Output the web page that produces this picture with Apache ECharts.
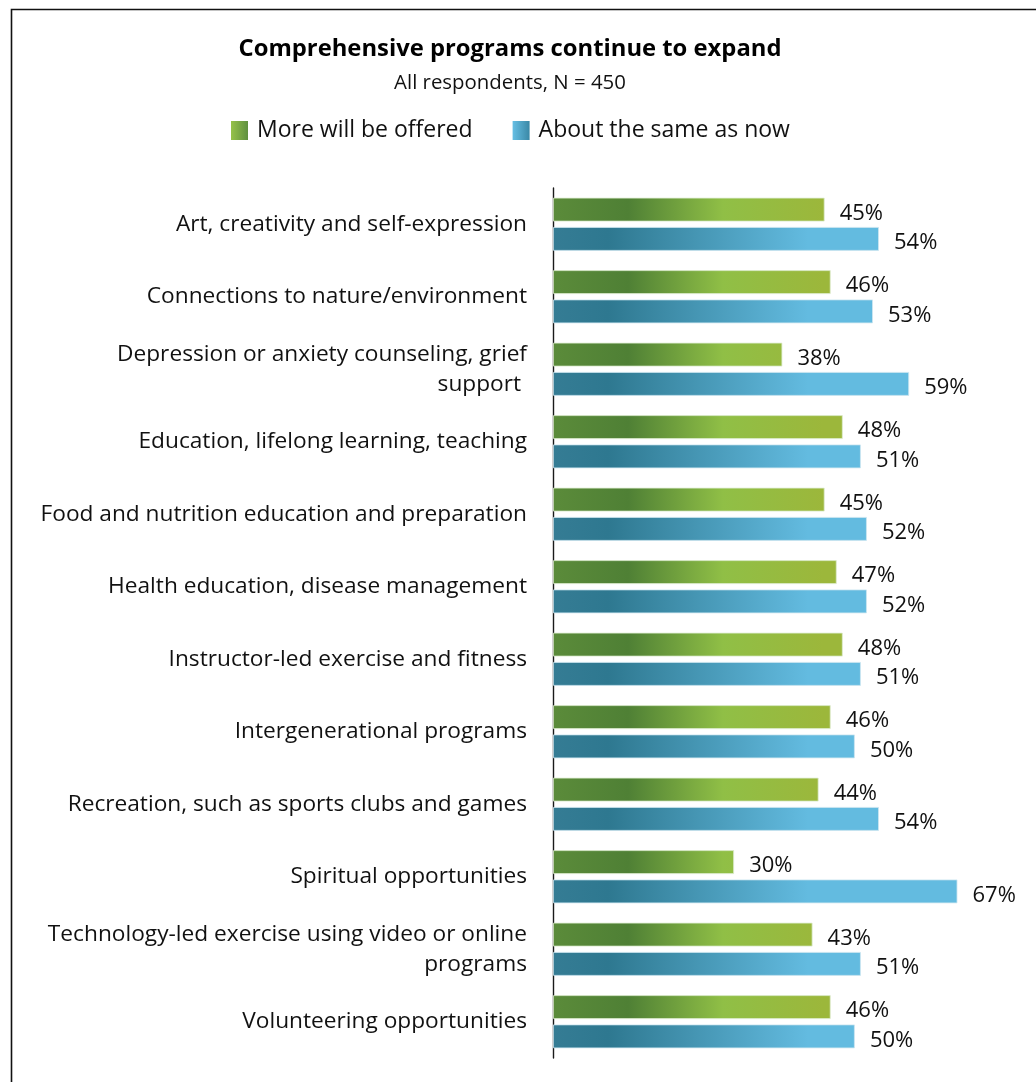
<!DOCTYPE html>
<html>
<head>
<meta charset="utf-8">
<script src="https://cdn.jsdelivr.net/npm/echarts@6/dist/echarts.min.js"></script>
<style>
  html, body { margin: 0; padding: 0; background: #fff; }
  #chart { width: 1036px; height: 1082px; }
</style>
</head>
<body>
<div id="chart"></div>
<script>
// Survey categories, top to bottom
const categories = [
  'Art, creativity and self-expression',
  'Connections to nature/environment',
  'Depression or anxiety counseling, grief\nsupport ',
  'Education, lifelong learning, teaching',
  'Food and nutrition education and preparation',
  'Health education, disease management',
  'Instructor-led exercise and fitness',
  'Intergenerational programs',
  'Recreation, such as sports clubs and games',
  'Spiritual opportunities',
  'Technology-led exercise using video or online\nprograms',
  'Volunteering opportunities'
];

// Share of respondents (%)
const moreOffered = [45, 46, 38, 48, 45, 47, 48, 46, 44, 30, 43, 46];
const sameAsNow   = [54, 53, 59, 51, 52, 52, 51, 50, 54, 67, 51, 50];

const seriesNames = ['More will be offered', 'About the same as now'];

const FONT = '"Open Sans", Lato, sans-serif';

// plot area geometry
const W = 1036, H = 1082;
const gridLeft = 553, gridTop = 188, gridBottom = 24, gridRight = 0;
const plotW = W - gridLeft - gridRight;

// gradients anchored to the plot area so every bar shares the same colour ramp
const px = (d) => d / plotW;
const greenFill = new echarts.graphic.LinearGradient(gridLeft, 0, gridLeft + plotW, 0, [
  { offset: 0, color: '#5b8b3a' },
  { offset: px(75), color: '#4f8035' },
  { offset: px(170), color: '#90bf46' },
  { offset: px(270), color: '#9cb73b' },
  { offset: 1, color: '#9cb73b' }
], true);
const blueFill = new echarts.graphic.LinearGradient(gridLeft, 0, gridLeft + plotW, 0, [
  { offset: 0, color: '#357c94' },
  { offset: px(55), color: '#2e7890' },
  { offset: px(255), color: '#63bbe0' },
  { offset: 1, color: '#63bbe0' }
], true);

const greenIcon = new echarts.graphic.LinearGradient(0, 0, 1, 0, [
  { offset: 0, color: '#96c24a' },
  { offset: 1, color: '#5f9040' }
]);
const blueIcon = new echarts.graphic.LinearGradient(0, 0, 1, 0, [
  { offset: 0, color: '#66bfe4' },
  { offset: 1, color: '#3a88a6' }
]);

const chart = echarts.init(document.getElementById('chart'), null, { renderer: 'canvas' });

const labelStyle = {
  show: true,
  position: 'right',
  distance: 15,
  offset: [0, 4],
  color: '#111',
  fontFamily: FONT,
  fontSize: 22,
  formatter: (p) => p.value + '%'
};

chart.setOption({
  animation: false,
  backgroundColor: '#fff',
  title: [
    {
      text: 'Comprehensive programs continue to expand',
      left: 505,
      top: 32,
      textAlign: 'center',
      textStyle: { fontFamily: FONT, fontSize: 23.8, fontWeight: 'bold', color: '#000' }
    },
    {
      text: 'All respondents, N = 450',
      left: 505,
      top: 68,
      textAlign: 'center',
      textStyle: { fontFamily: FONT, fontSize: 20.4, fontWeight: 'normal', color: '#111' }
    }
  ],
  legend: {
    left: 226,
    top: 114,
    itemWidth: 17,
    itemHeight: 19,
    itemGap: 40,
    icon: 'rect',
    textStyle: { fontFamily: FONT, fontSize: 23, color: '#111', padding: [0, 0, 0, 4] },
    data: [
      { name: seriesNames[0], itemStyle: { color: greenIcon, borderWidth: 0 } },
      { name: seriesNames[1], itemStyle: { color: blueIcon, borderWidth: 0 } }
    ]
  },
  grid: { left: gridLeft, right: gridRight, top: gridTop, bottom: gridBottom, containLabel: false },
  xAxis: {
    type: 'value',
    min: 0,
    max: 80,
    show: false
  },
  yAxis: {
    type: 'category',
    data: categories,
    inverse: true,
    axisLine: { show: true, lineStyle: { color: '#1a1a1a', width: 1.4 } },
    axisTick: { show: false },
    splitLine: { show: false },
    axisLabel: {
      margin: 26,
      color: '#111',
      fontFamily: FONT,
      fontSize: 22.7,
      lineHeight: 30,
      padding: [3, 0, 0, 0],
      align: 'right'
    }
  },
  series: [
    {
      name: seriesNames[0],
      type: 'bar',
      data: moreOffered,
      barWidth: 24,
      barGap: '22%',
      itemStyle: { color: greenFill, borderColor: 'rgba(220,235,205,0.8)', borderWidth: 1 },
      label: labelStyle
    },
    {
      name: seriesNames[1],
      type: 'bar',
      data: sameAsNow,
      barWidth: 24,
      barGap: '22%',
      itemStyle: { color: blueFill, borderColor: 'rgba(205,230,240,0.8)', borderWidth: 1 },
      label: labelStyle
    }
  ],
  graphic: [
    {
      type: 'polyline',
      silent: true,
      shape: { points: [[11.5, H], [11.5, 9.5], [W, 9.5]] },
      style: { stroke: '#111', lineWidth: 1.6, fill: null }
    }
  ]
});
</script>
</body>
</html>
